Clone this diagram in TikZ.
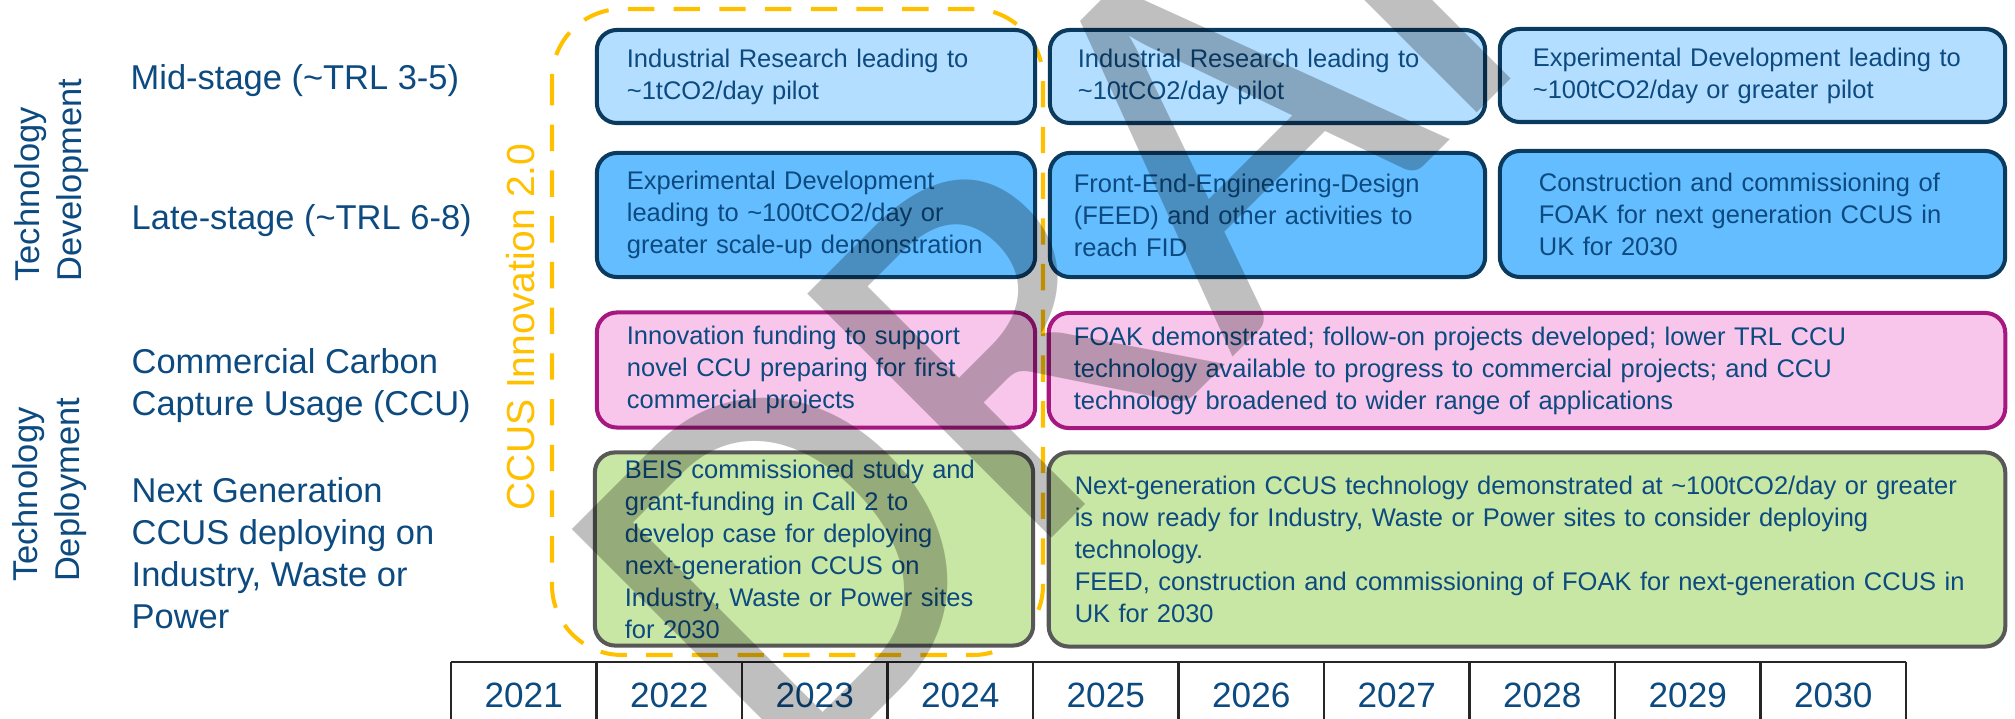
\documentclass[tikz,border=0pt]{standalone}
\usepackage{fontspec}
\setmainfont{Liberation Sans}
\newfontfamily\wmfont{Carlito}
\usetikzlibrary{positioning}

\definecolor{txtblue}{RGB}{12,74,128}
\definecolor{navy}{RGB}{11,58,95}
\definecolor{midfill}{RGB}{180,222,255}
\definecolor{latefill}{RGB}{100,189,255}
\definecolor{ccufill}{RGB}{247,198,234}
\definecolor{ccuedge}{RGB}{166,23,128}
\definecolor{genfill}{RGB}{200,230,164}
\definecolor{genedge}{RGB}{88,88,88}
\definecolor{innoorange}{RGB}{255,192,0}

\newcommand{\labelfont}{\fontsize{9.8pt}{11.9pt}\selectfont}
\newcommand{\boxfont}{\fontsize{7.25pt}{9.1pt}\selectfont}

\tikzset{
  rowlabel/.style={anchor=west, align=left, text=txtblue, font=\labelfont, inner sep=0pt},
  grouplabel/.style={rotate=90, align=left, text=txtblue, font=\labelfont, inner sep=0pt},
  tbox/.style={draw, rounded corners=0.2cm, line width=1.15pt, align=left,
    inner ysep=0pt, text=txtblue, font=\boxfont},
  midbox/.style={tbox, fill=midfill, draw=navy},
  latebox/.style={tbox, fill=latefill, draw=navy},
  ccubox/.style={tbox, fill=ccufill, draw=ccuedge},
  genbox/.style={tbox, fill=genfill, draw=genedge},
  yearcell/.style={text=txtblue, font=\fontsize{10pt}{12pt}\selectfont, inner sep=0pt}
}

\begin{document}
\begin{tikzpicture}[x=0.01cm, y=-0.01cm]
    \useasboundingbox (0,0) rectangle (2015,719);

    % group and row labels
    \node[grouplabel] (tdev) at (52,180) {Technology\\Development};
    \node[grouplabel] (tdep) at (50,490) {Technology\\Deployment};

    \node[rowlabel] (mid) at (130,81) {Mid-stage (\textasciitilde TRL 3-5)};
    \node[rowlabel] (late) at (131,221) {Late-stage (\textasciitilde TRL 6-8)};
    \node[rowlabel] (ccu) at (131,386) {Commercial Carbon\\Capture Usage (CCU)};
    \node[rowlabel] (gen) at (131,553) {Next Generation\\CCUS deploying on\\Industry, Waste or\\Power};

    % CCUS Innovation 2.0 frame
    \draw[innoorange, line width=1.15pt, dash pattern=on 7.5pt off 5.5pt, rounded corners=0.7cm]
        (552,9) rectangle (1043,655);
    \node[rotate=90, text=innoorange, font=\fontsize{11.1pt}{13pt}\selectfont, inner sep=0pt]
        (inno) at (521,327) {CCUS Innovation 2.0};

    % mid-stage row
    \node[midbox, minimum width=4.38cm, minimum height=0.93cm, inner xsep=0.3cm, text width=3.78cm]
        (m1) at (816,76.5) {Industrial Research leading to\\\textasciitilde 1tCO2/day pilot};
    \node[midbox, minimum width=4.35cm, minimum height=0.93cm, inner xsep=0.28cm, text width=3.79cm]
        (m2) at (1267.5,76.5) {Industrial Research leading to\\\textasciitilde 10tCO2/day pilot};
    \node[midbox, minimum width=5.05cm, minimum height=0.93cm, inner xsep=0.33cm, text width=4.39cm]
        (m3) at (1752.5,75.5) {Experimental Development leading to\\\textasciitilde 100tCO2/day or greater pilot};

    % late-stage row
    \node[latebox, minimum width=4.38cm, minimum height=1.24cm, inner xsep=0.3cm, text width=3.78cm]
        (l1) at (816,215) {Experimental Development\\leading to \textasciitilde 100tCO2/day or\\greater scale-up demonstration};
    \node[latebox, minimum width=4.35cm, minimum height=1.24cm, inner xsep=0.24cm, text width=3.87cm]
        (l2) at (1267.5,215) {Front-End-Engineering-Design\\(FEED) and other activities to\\reach FID};
    \node[latebox, minimum width=5.05cm, minimum height=1.26cm, inner xsep=0.39cm, text width=4.27cm]
        (l3) at (1752.5,214) {Construction and commissioning of\\FOAK for next generation CCUS in\\UK for 2030};

    % CCU row
    \node[ccubox, minimum width=4.38cm, minimum height=1.15cm, inner xsep=0.3cm, text width=3.78cm]
        (c1) at (816,370) {Innovation funding to support\\novel CCU preparing for first\\commercial projects};
    \node[ccubox, minimum width=9.56cm, minimum height=1.15cm, inner xsep=0.25cm, text width=9.06cm]
        (c2) at (1527,370.5) {FOAK demonstrated; follow-on projects developed; lower TRL CCU\\technology available to progress to commercial projects; and CCU\\technology broadened to wider range of applications};

    % next generation row
    \node[genbox, minimum width=4.38cm, minimum height=1.93cm, inner xsep=0.3cm, text width=3.78cm]
        (g1) at (814,549) {BEIS commissioned study and\\grant-funding in Call 2 to\\develop case for deploying\\next-generation CCUS on\\Industry, Waste or Power sites\\for 2030};
    \node[genbox, minimum width=9.56cm, minimum height=1.94cm, inner xsep=0.26cm, text width=9.04cm]
        (g2) at (1527,549.5) {Next-generation CCUS technology demonstrated at \textasciitilde 100tCO2/day or greater\\is now ready for Industry, Waste or Power sites to consider deploying\\technology.\\FEED, construction and commissioning of FOAK for next-generation CCUS in\\UK for 2030};

    % year axis
    \draw[line width=0.6pt, black!85] (451,662) -- (1906,662);
    \foreach \yr [count=\i from 0] in {2021,...,2030} {
        \draw[line width=0.6pt, black!85] (451+145.5*\i,662) -- (451+145.5*\i,719);
        \node[yearcell] (y\yr) at (523.75+145.5*\i,695) {\yr};
    }
    \draw[line width=0.6pt, black!85] (1906,662) -- (1906,719);

    % draft watermark
    \begin{scope}[opacity=0.25]
    \node[rotate=45, anchor=base west, inner sep=0pt, font=\wmfont\fontsize{153pt}{153pt}\selectfont]
        (wm) at (790,800) {DRAFT};
    \end{scope}
\end{tikzpicture}
\end{document}
